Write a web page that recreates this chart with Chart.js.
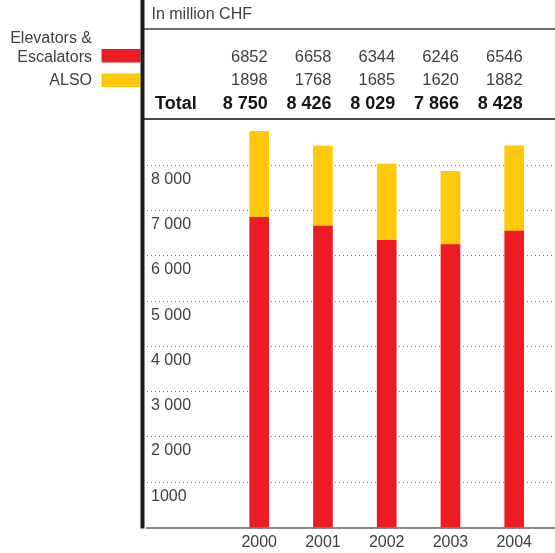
<!DOCTYPE html>
<html>
<head>
<meta charset="utf-8">
<title>Sales by division</title>
<script src="https://cdn.jsdelivr.net/npm/chart.js@4.4.1/dist/chart.umd.min.js"></script>
<style>
  html, body { margin: 0; padding: 0; background: #fff; }
  #wrap { position: relative; width: 555px; height: 553px; }
</style>
</head>
<body>
<div id="wrap"><canvas id="salesChart" width="555" height="553"></canvas></div>
<script>
// Sales per division, in million CHF
const years = [2000, 2001, 2002, 2003, 2004];
const elevators = [6852, 6658, 6344, 6246, 6546];
const also = [1898, 1768, 1685, 1620, 1882];
const seriesNames = [["Elevators &", "Escalators"], ["ALSO"]];
const yTicks = [1000, 2000, 3000, 4000, 5000, 6000, 7000, 8000];
const yTickLabels = ["1000", "2 000", "3 000", "4 000", "5 000", "6 000", "7 000", "8 000"];

const RED = "#ED1C24";
const YELLOW = "#FFC90B";
const TEXT = "#404040";
const FONT = '"Liberation Sans", Arial, sans-serif';

const totals = elevators.map((v, i) => v + also[i]);
const spaced = (n) => String(n).replace(/\B(?=(\d{3})+$)/, " ");

/**
 * Draws the frame, the legend on the left and the value table above the bars
 */
const tablePlugin = {
  id: "valueTable",
  afterDraw(chart) {
    const { ctx, scales } = chart;
    const xs = scales.x;
    ctx.save();

    // header rules
    ctx.fillStyle = "#6e6e6e";
    ctx.fillRect(144, 28, 411, 2);
    ctx.fillStyle = "#4a4a4a";
    ctx.fillRect(144, 118, 411, 2);

    // legend swatches
    ctx.fillStyle = RED;
    ctx.fillRect(101.5, 49, 39, 13.5);
    ctx.fillStyle = YELLOW;
    ctx.fillRect(101.5, 73.5, 39, 13.5);

    // thick left rule
    ctx.fillStyle = "#1c1c1c";
    ctx.fillRect(140.5, 0, 4, 528.5);

    ctx.fillStyle = TEXT;
    ctx.font = "16px " + FONT;
    ctx.textBaseline = "alphabetic";

    // legend text
    ctx.textAlign = "right";
    ctx.fillText(seriesNames[0][0], 92, 42.5);
    ctx.fillText(seriesNames[0][1], 92, 61.5);
    ctx.fillText(seriesNames[1][0], 92, 85);

    // table header
    ctx.textAlign = "left";
    ctx.fillText("In million CHF", 151.5, 18.5);

    // table rows, right-aligned on each bar
    ctx.textAlign = "right";
    ctx.font = "16.5px " + FONT;
    years.forEach((yr, i) => {
      const right = xs.getPixelForValue(yr) + 8.5;
      ctx.fillText(String(elevators[i]), right, 61.5);
      ctx.fillText(String(also[i]), right, 85);
    });

    ctx.fillStyle = "#151515";
    ctx.font = "bold 18px " + FONT;
    years.forEach((yr, i) => {
      const right = xs.getPixelForValue(yr) + 8.5;
      ctx.fillText(spaced(totals[i]), right, 109);
    });
    ctx.textAlign = "left";
    ctx.fillText("Total", 155, 109);

    ctx.restore();
  },
};

const ctx = document.getElementById("salesChart").getContext("2d");

const salesChart = new Chart(ctx, {
  type: "bar",
  data: {
    datasets: [
      {
        label: "Elevators & Escalators",
        data: years.map((yr, i) => ({ x: yr, y: elevators[i] })),
        backgroundColor: RED,
        borderWidth: 0,
        barThickness: 19,
      },
      {
        label: "ALSO",
        data: years.map((yr, i) => ({ x: yr, y: also[i] })),
        backgroundColor: YELLOW,
        borderWidth: 0,
        barThickness: 19,
      },
    ],
  },
  options: {
    responsive: false,
    animation: false,
    layout: {
      padding: { left: 147, top: 120, right: 0, bottom: 0 },
    },
    scales: {
      x: {
        type: "linear",
        stacked: true,
        offset: false,
        min: 1998.24,
        max: 2004.64,
        afterBuildTicks: (scale) => {
          scale.ticks = years.map((v) => ({ value: v }));
        },
        afterFit: (scale) => {
          scale.height = 25.5;
        },
        grid: { display: false, drawTicks: false, offset: false },
        border: { display: true, color: "#8a8a8a", width: 2 },
        ticks: {
          padding: 5,
          color: TEXT,
          font: { family: FONT, size: 16 },
          callback: (value) => String(value),
        },
      },
      y: {
        stacked: true,
        min: 0,
        max: 9000,
        afterBuildTicks: (scale) => {
          scale.ticks = yTicks.map((v) => ({ value: v }));
        },
        afterFit: (scale) => {
          scale.width = 0;
        },
        grid: { color: "#7a7a7a", lineWidth: 1, drawTicks: false },
        border: { display: false, dash: [1, 3] },
        ticks: {
          mirror: true,
          padding: 4,
          labelOffset: 14,
          color: TEXT,
          font: { family: FONT, size: 16 },
          callback: (value, index) => yTickLabels[index],
        },
      },
    },
    plugins: {
      legend: { display: false },
      tooltip: { enabled: false },
    },
  },
  plugins: [tablePlugin],
});
</script>
</body>
</html>
